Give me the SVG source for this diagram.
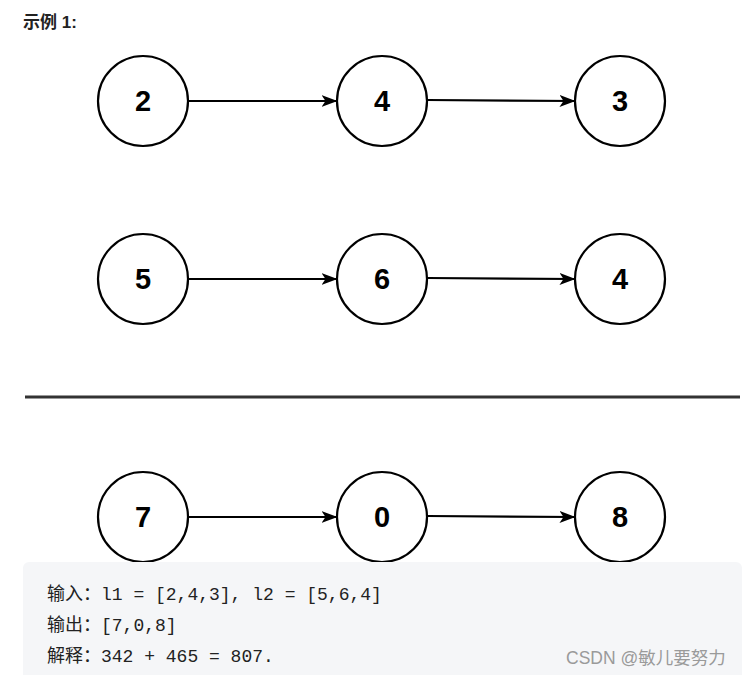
<svg xmlns="http://www.w3.org/2000/svg" width="749" height="675" viewBox="0 0 749 675">
<style>
.node circle{fill:#fff;stroke:#000;stroke-width:2.2}
.node text{font-family:"Liberation Sans",Arial,sans-serif;font-weight:bold;font-size:29px;text-anchor:middle;fill:#000}
.conn line{stroke:#000;stroke-width:2.2}
.code{font-family:"Liberation Mono","Noto Sans CJK SC",monospace;font-size:18px;fill:#222}
</style>
<defs>
<marker id="arr" viewBox="0 0 16 12" refX="15.5" refY="6" markerWidth="16" markerHeight="12" markerUnits="userSpaceOnUse" orient="auto">
<path d="M0,0 L16,6 L0,12 L4,6 Z" fill="#000"/>
</marker>
</defs>
<rect width="749" height="675" fill="#fff"/>
<text x="23" y="28" font-family="Liberation Sans,'Noto Sans CJK SC',sans-serif" font-weight="bold" font-size="17" fill="#222">示例 1:</text>
<g class="conn">
<line x1="189" y1="101" x2="337" y2="101" marker-end="url(#arr)"/>
<line x1="427" y1="100" x2="575" y2="101" marker-end="url(#arr)"/>
<line x1="189" y1="279" x2="337" y2="279" marker-end="url(#arr)"/>
<line x1="427" y1="278" x2="575" y2="279" marker-end="url(#arr)"/>
<line x1="189" y1="517" x2="337" y2="517" marker-end="url(#arr)"/>
<line x1="427" y1="516" x2="575" y2="517" marker-end="url(#arr)"/>
</g>
<g id="n2" class="node"><circle cx="143" cy="101" r="45"/><text x="143" y="111">2</text></g>
<g id="n4a" class="node"><circle cx="382" cy="101" r="45"/><text x="382" y="111">4</text></g>
<g id="n3" class="node"><circle cx="620" cy="101" r="45"/><text x="620" y="111">3</text></g>
<g id="n5" class="node"><circle cx="143" cy="279" r="45"/><text x="143" y="289">5</text></g>
<g id="n6" class="node"><circle cx="382" cy="279" r="45"/><text x="382" y="289">6</text></g>
<g id="n4b" class="node"><circle cx="620" cy="279" r="45"/><text x="620" y="289">4</text></g>
<line x1="25" y1="397" x2="740" y2="397" stroke="#333" stroke-width="3"/>
<g id="n7" class="node"><circle cx="143" cy="517" r="45"/><text x="143" y="527">7</text></g>
<g id="n0" class="node"><circle cx="382" cy="517" r="45"/><text x="382" y="527">0</text></g>
<g id="n8" class="node"><circle cx="620" cy="517" r="45"/><text x="620" y="527">8</text></g>
<rect x="23" y="562" width="719" height="120" rx="6" fill="#f5f6f8"/>
<text class="code" x="47" y="600">输入：l1 = [2,4,3], l2 = [5,6,4]</text>
<text class="code" x="47" y="631">输出：[7,0,8]</text>
<text class="code" x="47" y="662">解释：342 + 465 = 807.</text>
<text x="566" y="664" font-family="Liberation Sans,'Noto Sans CJK SC',sans-serif" font-size="17.5" fill="#9a9a9a">CSDN @敏儿要努力</text>
</svg>
